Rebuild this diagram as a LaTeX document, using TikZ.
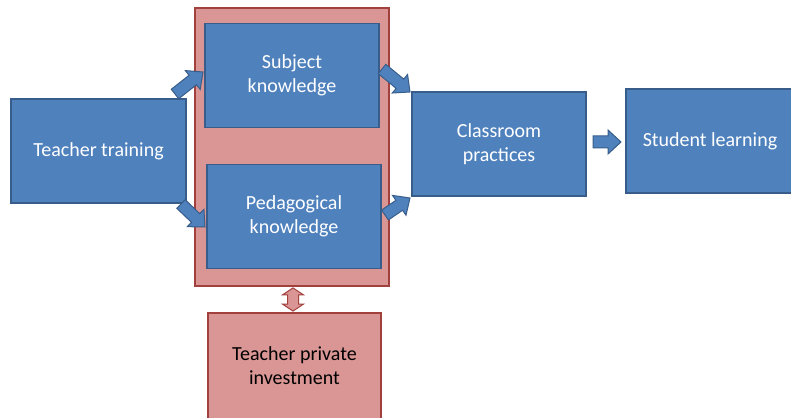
\documentclass[tikz,border=0pt]{standalone}
\usepackage{fontspec}
\setmainfont{Carlito}
\usetikzlibrary{calc}

\definecolor{boxblue}{HTML}{4F81BD}
\definecolor{lineblue}{HTML}{385D8A}
\definecolor{boxred}{HTML}{D99694}
\definecolor{linered}{HTML}{A2403D}

% block arrow: style, from, to
\newcommand{\fatarrow}[3]{%
\path[#1] let \p1=($(#3)-(#2)$), \n1={atan2(\y1,\x1)}, \n2={veclen(\x1,\y1)} in
 ($(#2)+(\n1+90:6)$) -- ($(#2)+(\n1+90:6)+(\n1:{\n2-13})$)
 -- ($(#2)+(\n1+90:12)+(\n1:{\n2-13})$) -- (#3)
 -- ($(#2)+(\n1-90:12)+(\n1:{\n2-13})$) -- ($(#2)+(\n1-90:6)+(\n1:{\n2-13})$)
 -- ($(#2)+(\n1-90:6)$) -- cycle;}

% block arrow with two heads
\newcommand{\fatdblarrow}[3]{%
\path[#1] let \p1=($(#3)-(#2)$), \n1={atan2(\y1,\x1)}, \n2={veclen(\x1,\y1)} in
 (#2) -- ($(#2)+(\n1+90:10.5)+(\n1:7)$) -- ($(#2)+(\n1+90:5.5)+(\n1:7)$)
 -- ($(#2)+(\n1+90:5.5)+(\n1:{\n2-7})$) -- ($(#2)+(\n1+90:10.5)+(\n1:{\n2-7})$)
 -- (#3) -- ($(#2)+(\n1-90:10.5)+(\n1:{\n2-7})$) -- ($(#2)+(\n1-90:5.5)+(\n1:{\n2-7})$)
 -- ($(#2)+(\n1-90:5.5)+(\n1:7)$) -- ($(#2)+(\n1-90:10.5)+(\n1:7)$) -- cycle;}

\begin{document}
\begin{tikzpicture}[x=1pt, y=1pt,
  every node/.style={font=\fontsize{20}{24}\selectfont, align=center, inner sep=0pt},
  bluebox/.style={draw=lineblue, line width=1.8pt, fill=boxblue, text=white, minimum width=174, minimum height=104},
  redbox/.style={draw=linered, line width=1.8pt, fill=boxred, text=black, minimum width=173, minimum height=106},
  bluearr/.style={draw=lineblue, line width=1pt, fill=boxblue, line join=miter},
  redarr/.style={draw=linered, line width=1pt, fill=boxred, line join=miter}]
\useasboundingbox (0,0) rectangle (791,417);

\node[draw=linered, line width=1.8pt, fill=boxred, minimum width=194, minimum height=278] (K) at (292,270) {};
\node[bluebox, minimum width=175] (T) at (98.5,266) {Teacher training};
\node[bluebox] (SK) at (292,341.5) {Subject\\knowledge};
\node[bluebox] (PK) at (294,200.5) {Pedagogical\\knowledge};
\node[bluebox] (CP) at (499,273) {Classroom\\practices};
\node[bluebox, minimum width=168] (SL) at (710,276) {Student learning};
\node[redbox] (TI) at (294.5,51) {Teacher private\\investment};

\coordinate (a1s) at (175,323);
\coordinate (a1e) at (203,345);
\coordinate (a2s) at (181,213);
\coordinate (a2e) at (205,190);
\coordinate (a3s) at (382,348);
\coordinate (a3e) at (410,325);
\coordinate (a4s) at (385,202);
\coordinate (a4e) at (410,219);
\coordinate (a5s) at (593,275);
\coordinate (a5e) at (621,275);
\coordinate (a6s) at ($(K.south)+(1,-1)$);
\coordinate (a6e) at ($(TI.north)+(-1.5,1)$);

\fatarrow{bluearr}{a1s}{a1e}
\fatarrow{bluearr}{a2s}{a2e}
\fatarrow{bluearr}{a3s}{a3e}
\fatarrow{bluearr}{a4s}{a4e}
\fatarrow{bluearr}{a5s}{a5e}
\fatdblarrow{redarr}{a6s}{a6e}
\end{tikzpicture}
\end{document}
